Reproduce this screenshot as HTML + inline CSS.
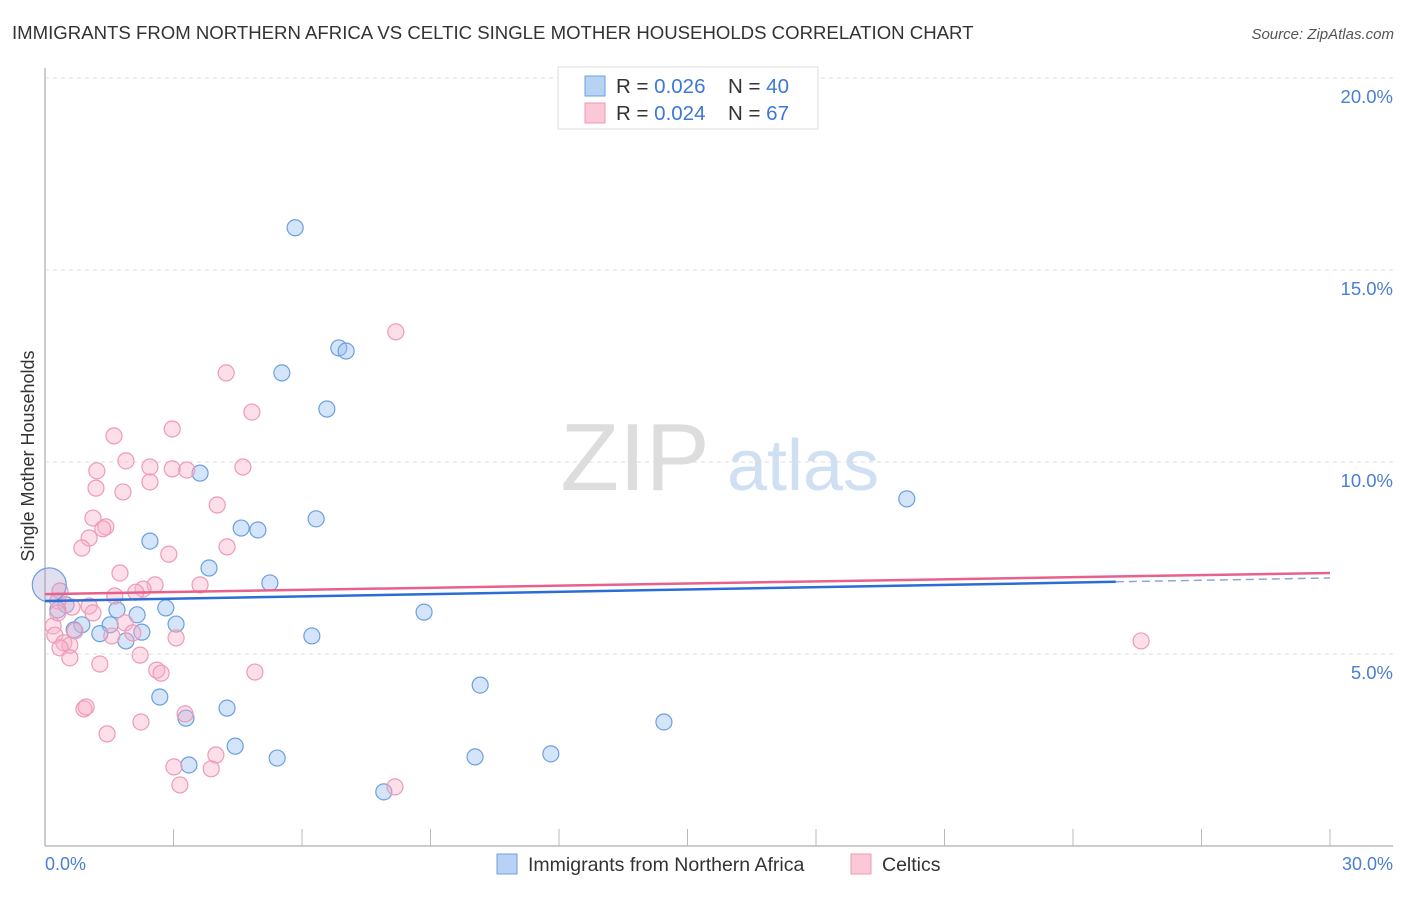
<!DOCTYPE html>
<html><head><meta charset="utf-8"><style>
body{margin:0;background:#fff;font-family:"Liberation Sans",sans-serif;}
svg text{font-family:"Liberation Sans",sans-serif;}
</style></head><body>
<svg id="chart" width="1406" height="892">
<text x="12" y="39" font-size="18.6" fill="#333">IMMIGRANTS FROM NORTHERN AFRICA VS CELTIC SINGLE MOTHER HOUSEHOLDS CORRELATION CHART</text>
<text x="1394" y="39" font-size="15" fill="#555" font-style="italic" text-anchor="end">Source: ZipAtlas.com</text>
<g>
<text x="635" y="490" font-size="96" fill="#ddd" font-family="Liberation Serif" text-anchor="middle">ZIP</text>
<text x="803" y="490" font-size="72" fill="#cfe0f3" text-anchor="middle">atlas</text>
</g>
<g id="grid"></g>
<g id="axes"></g>
<g id="pts"></g>
<g id="trends"></g>
<text x="34" y="456" font-size="18" fill="#333" text-anchor="middle" transform="rotate(-90 34 456)">Single Mother Households</text>
<text x="45" y="870" font-size="18" fill="#4a7fd4">0.0%</text>
<text x="1393" y="870" font-size="18" fill="#4a7fd4" text-anchor="end">30.0%</text>
<g>
<rect x="558" y="67" width="260" height="62" fill="#fff" stroke="#ddd"/>
<rect x="585" y="76" width="20" height="20" fill="#b8d2f4" stroke="#6a9fe0"/>
<rect x="585" y="103" width="20" height="20" fill="#fbc8d8" stroke="#ee9ab5"/>
<text x="616" y="93" font-size="20.5" fill="#333">R = <tspan fill="#3d78d8">0.026</tspan></text>
<text x="728" y="93" font-size="20.5" fill="#333">N = <tspan fill="#3d78d8">40</tspan></text>
<text x="616" y="120" font-size="20.5" fill="#333">R = <tspan fill="#3d78d8">0.024</tspan></text>
<text x="728" y="120" font-size="20.5" fill="#333">N = <tspan fill="#3d78d8"> 67</tspan></text>
</g>
<g>
<rect x="497" y="854" width="20" height="20" fill="#b8d2f4" stroke="#6a9fe0"/>
<text x="528" y="871" font-size="19.5" fill="#333">Immigrants from Northern Africa</text>
<rect x="851" y="854" width="20" height="20" fill="#fbc8d8" stroke="#ee9ab5"/>
<text x="882" y="871" font-size="19.5" fill="#333">Celtics</text>
</g>
</svg>
<script>
const yTicks=[5,10,15,20];
const yTickLabels=["5.0%","10.0%","15.0%","20.0%"];
const xTicks=[0,3,6,9,12,15,18,21,24,27,30];
const blueX=[5.84,6.86,7.03,5.53,6.58,3.62,20.12,6.33,4.58,4.97,2.45,3.83,5.25,0.49,0.30,1.68,2.82,2.15,8.85,0.86,1.52,3.06,0.68,1.28,2.26,1.89,6.23,2.68,4.25,3.29,10.16,14.45,4.44,5.42,10.04,11.81,3.36,7.91];
const blueY=[16.1,12.97,12.89,12.32,11.38,9.71,9.04,8.52,8.28,8.23,7.94,7.24,6.85,6.28,6.15,6.15,6.20,6.02,6.09,5.76,5.76,5.78,5.63,5.53,5.57,5.34,5.47,3.88,3.59,3.33,4.19,3.23,2.60,2.29,2.32,2.40,2.11,1.41];
const pinkX=[8.19,4.23,4.83,1.61,2.97,1.89,2.45,1.21,2.97,3.31,4.62,2.45,1.19,1.82,4.02,1.12,1.42,1.35,1.03,0.86,4.25,2.89,1.75,2.57,2.29,2.12,1.63,3.62,0.35,0.30,1.03,0.63,1.12,0.19,1.87,2.05,0.70,0.23,1.56,3.06,0.44,0.58,0.35,2.22,0.58,1.28,2.61,2.71,4.90,25.59,0.91,0.96,2.24,3.27,1.45,3.99,3.01,3.88,3.15,8.17,0.30];
const pinkY=[13.39,12.32,11.30,10.68,10.86,10.03,9.87,9.77,9.82,9.79,9.87,9.48,9.32,9.22,8.88,8.54,8.31,8.26,8.02,7.76,7.79,7.60,7.11,6.80,6.69,6.61,6.51,6.80,6.64,6.38,6.25,6.22,6.07,5.73,5.81,5.55,5.60,5.49,5.47,5.42,5.29,5.23,5.16,4.97,4.90,4.74,4.58,4.50,4.53,5.34,3.57,3.62,3.23,3.44,2.92,2.37,2.06,2.01,1.59,1.54,6.07];
const blueTrend=[6.38,6.98];
const pinkTrend=[6.56,7.11];
const X=v=>45+v/30*1285;
const Y=v=>846-v/5*192;
const NS="http://www.w3.org/2000/svg";
function mk(tag,attrs,parent){const e=document.createElementNS(NS,tag);for(const k in attrs)e.setAttribute(k,attrs[k]);document.getElementById(parent).appendChild(e);return e;}
yTicks.forEach((t,i)=>{
 const l=mk('line',{x1:45,x2:1393,y1:Y(t),y2:Y(t),stroke:'#ddd','stroke-dasharray':'4,4'},'grid');
 
 
 const tx=mk('text',{x:1393,y:Y(t)+25,'font-size':18.5,fill:'#4a7fd4','text-anchor':'end'},'grid');
 tx.textContent=yTickLabels[i];
 
 
});
const ya=mk('line',{x1:45,x2:45,y1:68,y2:846,stroke:'#bbb','stroke-width':1.5},'axes');


const xa=mk('line',{x1:45,x2:1393,y1:846,y2:846,stroke:'#bbb','stroke-width':1.5},'axes');


xTicks.forEach(t=>{
 const l=mk('line',{x1:X(t),x2:X(t),y1:829,y2:846,stroke:'#bbb'},'axes');
 
 
});
blueX.forEach((v,i)=>{
 const c=mk('circle',{cx:X(v),cy:Y(blueY[i]),r:8,fill:'rgba(150,190,240,0.4)',stroke:'#6a9fe0','stroke-width':1.2},'pts');
 
 
});
pinkX.forEach((v,i)=>{
 const c=mk('circle',{cx:X(v),cy:Y(pinkY[i]),r:8,fill:'rgba(248,175,200,0.4)',stroke:'#ee9ab5','stroke-width':1.2},'pts');
 
 
});
const big=mk('circle',{cx:X(0.1),cy:Y(6.8),r:17,fill:'rgba(170,160,210,0.35)',stroke:'#6a9fe0','stroke-width':1.2},'pts');


const bx2=25;
const by=v=>blueTrend[0]+(blueTrend[1]-blueTrend[0])*v/30;
const bl=mk('line',{x1:X(0),y1:Y(by(0)),x2:X(bx2),y2:Y(by(bx2)),stroke:'#2a6dd4','stroke-width':2.5},'trends');


const bd=mk('line',{x1:X(bx2),y1:Y(by(bx2)),x2:X(30),y2:Y(by(30)),stroke:'#8aa8d8','stroke-width':1.5,'stroke-dasharray':'8,5'},'trends');


const pl=mk('line',{x1:X(0),y1:Y(pinkTrend[0]),x2:X(30),y2:Y(pinkTrend[1]),stroke:'#e8608c','stroke-width':2.5},'trends');


</script>
</body></html>
